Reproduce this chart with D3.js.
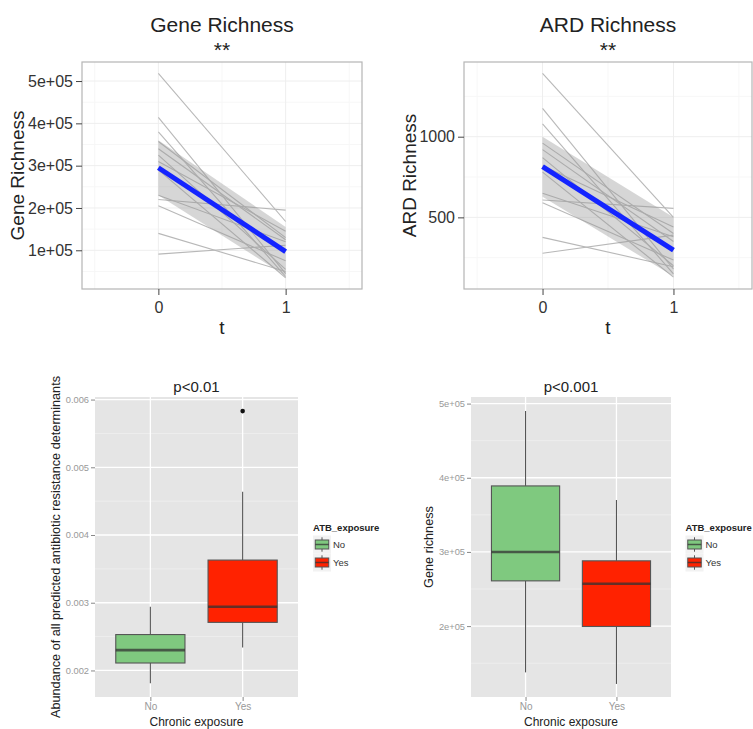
<!DOCTYPE html>
<html><head><meta charset="utf-8">
<script src="https://cdn.jsdelivr.net/npm/d3@7"></script>
<style>
body{margin:0;background:#fff}
svg{display:block}
text{font-family:"Liberation Sans",Arial,Helvetica,sans-serif}
</style>
</head><body>
<svg id="c" width="753" height="729"></svg>
<script>
// ---------- DATA ----------
const timePoints = [0, 1];
const timeTickLabels = ["0", "1"];

// Gene richness per subject (t = 0, t = 1)
const geneT0 = [518000, 414000, 380000, 357000, 340000, 325000, 310000, 290000, 220000, 230000, 205000, 140000, 91000];
const geneT1 = [168000, 45000, 38000, 130000, 125000, 55000, 145000, 35000, 195000, 120000, 75000, 50000, 112000];
const geneFit = [295000, 97000];
const geneBandLow = [230000, 40000];
const geneBandHigh = [360000, 155000];
const geneTicks = [100000, 200000, 300000, 400000, 500000];
const geneTickLabels = ["1e+05", "2e+05", "3e+05", "4e+05", "5e+05"];

// ARD richness per subject (t = 0, t = 1)
const ardT0 = [1393, 1176, 1079, 960, 920, 870, 820, 780, 608, 649, 590, 376, 278];
const ardT1 = [500, 180, 150, 400, 350, 200, 440, 130, 556, 380, 235, 194, 390];
const ardFit = [814, 297];
const ardBandLow = [628, 135];
const ardBandHigh = [1000, 500];
const ardTicks = [500, 1000];
const ardTickLabels = ["500", "1000"];

// Boxplots
const exposureCats = ["No", "Yes"];
const boxFill = ["#7FC97F", "#FF2200"];

const abdLowerWhisker = [0.00181, 0.00234];
const abdQ1 = [0.00211, 0.00271];
const abdMedian = [0.00230, 0.00294];
const abdQ3 = [0.00253, 0.00363];
const abdUpperWhisker = [0.00294, 0.00464];
const abdOutliers = [[], [0.00583]];
const abdTicks = [0.002, 0.003, 0.004, 0.005, 0.006];
const abdTickLabels = ["0.002", "0.003", "0.004", "0.005", "0.006"];

const grLowerWhisker = [137600, 122000];
const grQ1 = [261000, 199500];
const grMedian = [300000, 257000];
const grQ3 = [389000, 288000];
const grUpperWhisker = [490000, 370000];
const grOutliers = [[], []];
const grTicks = [200000, 300000, 400000, 500000];
const grTickLabels = ["2e+05", "3e+05", "4e+05", "5e+05"];

// ---------- DRAW ----------
const svg = d3.select("#c");

function topPanel(o) {
  const g = svg.append("g");
  const x = d3.scaleLinear().domain([-0.6, 1.6]).range([o.left, o.right]);
  const y = d3.scaleLinear().domain(o.ydom).range([o.bottom, o.top]);
  // background
  g.append("rect").attr("x", o.left).attr("y", o.top).attr("width", o.right - o.left).attr("height", o.bottom - o.top).attr("fill", "#fff");
  // minor grid
  const ymin = o.minor;
  g.selectAll(".ymin").data(ymin).join("line")
    .attr("x1", o.left).attr("x2", o.right).attr("y1", d => y(d)).attr("y2", d => y(d))
    .attr("stroke", "#f7f7f7").attr("stroke-width", 1);
  g.selectAll(".xmin").data([-0.5, 0.5, 1.5]).join("line")
    .attr("y1", o.top).attr("y2", o.bottom).attr("x1", d => x(d)).attr("x2", d => x(d))
    .attr("stroke", "#f7f7f7").attr("stroke-width", 1);
  // major grid
  g.selectAll(".ymaj").data(o.ticks).join("line")
    .attr("x1", o.left).attr("x2", o.right).attr("y1", d => y(d)).attr("y2", d => y(d))
    .attr("stroke", "#eeeeee").attr("stroke-width", 1);
  g.selectAll(".xmaj").data(timePoints).join("line")
    .attr("y1", o.top).attr("y2", o.bottom).attr("x1", d => x(d)).attr("x2", d => x(d))
    .attr("stroke", "#eeeeee").attr("stroke-width", 1);
  // subject lines
  const line = d3.line().x(d => x(d[0])).y(d => y(d[1]));
  o.t0.forEach((v, i) => {
    g.append("path").attr("d", line([[timePoints[0], v], [timePoints[1], o.t1[i]]]))
      .attr("fill", "none").attr("stroke", "#b8b8b8").attr("stroke-width", 1.1);
  });
  // confidence band
  const area = d3.area().x((d, i) => x(timePoints[i])).y0(d => y(d[0])).y1(d => y(d[1]));
  g.append("path").attr("d", area(timePoints.map((t, i) => [o.bandLow[i], o.bandHigh[i]])))
    .attr("fill", "#999").attr("fill-opacity", 0.4);
  // fit line
  g.append("path").attr("d", line(timePoints.map((t, i) => [t, o.fit[i]])))
    .attr("fill", "none").attr("stroke", "#1424ff").attr("stroke-width", 5);
  // border
  g.append("rect").attr("x", o.left).attr("y", o.top).attr("width", o.right - o.left).attr("height", o.bottom - o.top)
    .attr("fill", "none").attr("stroke", "#b5b5b5").attr("stroke-width", 1.2);
  // y axis
  const ya = d3.axisLeft(y).tickValues(o.ticks).tickFormat((d, i) => o.tickLabels[i]).tickSize(6).tickPadding(3);
  const yg = g.append("g").attr("transform", `translate(${o.left},0)`).call(ya);
  yg.select(".domain").remove();
  yg.selectAll("line").attr("stroke", "#444");
  yg.selectAll("text").attr("font-size", 16).attr("fill", "#333").attr("font-family", '"Liberation Sans",Arial,sans-serif');
  // x axis
  const xa = d3.axisBottom(x).tickValues(timePoints).tickFormat((d, i) => timeTickLabels[i]).tickSize(6).tickPadding(7);
  const xg = g.append("g").attr("transform", `translate(0,${o.bottom})`).call(xa);
  xg.select(".domain").remove();
  xg.selectAll("line").attr("stroke", "#444");
  xg.selectAll("text").attr("font-size", 16).attr("fill", "#333").attr("font-family", '"Liberation Sans",Arial,sans-serif');
  // titles
  const cx = (o.left + o.right) / 2;
  g.append("text").attr("x", cx).attr("y", 32).attr("text-anchor", "middle").attr("font-size", 21).attr("fill", "#222").text(o.title);
  g.append("text").attr("x", cx).attr("y", 57).attr("text-anchor", "middle").attr("font-size", 21).attr("fill", "#222").text("**");
  g.append("text").attr("x", cx).attr("y", 334).attr("text-anchor", "middle").attr("font-size", 19).attr("fill", "#222").text("t");
  g.append("text").attr("transform", `translate(${o.ylabX},${(o.top + o.bottom) / 2}) rotate(-90)`)
    .attr("text-anchor", "middle").attr("font-size", 19).attr("fill", "#222").text(o.ylabel);
}

topPanel({left: 82, right: 362, top: 62, bottom: 289, ydom: [8500, 545000],
  t0: geneT0, t1: geneT1, fit: geneFit, bandLow: geneBandLow, bandHigh: geneBandHigh,
  ticks: geneTicks, tickLabels: geneTickLabels, minor: [50000, 150000, 250000, 350000, 450000],
  title: "Gene Richness", ylabel: "Gene Richness", ylabX: 24});

topPanel({left: 464, right: 752, top: 62, bottom: 289, ydom: [56, 1463],
  t0: ardT0, t1: ardT1, fit: ardFit, bandLow: ardBandLow, bandHigh: ardBandHigh,
  ticks: ardTicks, tickLabels: ardTickLabels, minor: [250, 750, 1250],
  title: "ARD Richness", ylabel: "ARD Richness", ylabX: 416});

function boxPanel(o) {
  const g = svg.append("g");
  const x = d3.scalePoint().domain(exposureCats).range([o.left, o.right]).padding(0.6);
  const y = d3.scaleLinear().domain(o.ydom).range([o.bottom, o.top]);
  const bw = x.step() * 0.75;
  g.append("rect").attr("x", o.left).attr("y", o.top).attr("width", o.right - o.left).attr("height", o.bottom - o.top).attr("fill", "#e5e5e5");
  g.selectAll(".ymin").data(o.minor).join("line")
    .attr("x1", o.left).attr("x2", o.right).attr("y1", d => y(d)).attr("y2", d => y(d))
    .attr("stroke", "#f0f0f0").attr("stroke-width", 0.8);
  g.selectAll(".ymaj").data(o.ticks).join("line")
    .attr("x1", o.left).attr("x2", o.right).attr("y1", d => y(d)).attr("y2", d => y(d))
    .attr("stroke", "#fff").attr("stroke-width", 1.3);
  g.selectAll(".xmaj").data(exposureCats).join("line")
    .attr("y1", o.top).attr("y2", o.bottom).attr("x1", d => x(d)).attr("x2", d => x(d))
    .attr("stroke", "#fff").attr("stroke-width", 1.3);
  exposureCats.forEach((c, i) => {
    const cx = x(c);
    g.append("line").attr("x1", cx).attr("x2", cx).attr("y1", y(o.lw[i])).attr("y2", y(o.q1[i])).attr("stroke", "#555").attr("stroke-width", 1.1);
    g.append("line").attr("x1", cx).attr("x2", cx).attr("y1", y(o.q3[i])).attr("y2", y(o.uw[i])).attr("stroke", "#555").attr("stroke-width", 1.1);
    g.append("rect").attr("x", cx - bw / 2).attr("width", bw).attr("y", y(o.q3[i])).attr("height", y(o.q1[i]) - y(o.q3[i]))
      .attr("fill", boxFill[i]).attr("stroke", "#555").attr("stroke-width", 1.1);
    g.append("line").attr("x1", cx - bw / 2).attr("x2", cx + bw / 2).attr("y1", y(o.med[i])).attr("y2", y(o.med[i]))
      .attr("stroke", "#333").attr("stroke-opacity", 0.75).attr("stroke-width", 2.6);
    o.out[i].forEach(v => {
      g.append("circle").attr("cx", cx).attr("cy", y(v)).attr("r", 2.3).attr("fill", "#111");
    });
  });
  const ya = d3.axisLeft(y).tickValues(o.ticks).tickFormat((d, i) => o.tickLabels[i]).tickSize(4).tickPadding(2);
  const yg = g.append("g").attr("transform", `translate(${o.left},0)`).call(ya);
  yg.select(".domain").remove();
  yg.selectAll("line").attr("stroke", "#888");
  yg.selectAll("text").attr("font-size", 9.3).attr("fill", "#999").attr("font-family", '"Liberation Sans",Arial,sans-serif');
  const xa = d3.axisBottom(x).tickSize(4).tickPadding(2);
  const xg = g.append("g").attr("transform", `translate(0,${o.bottom})`).call(xa);
  xg.select(".domain").remove();
  xg.selectAll("line").attr("stroke", "#888");
  xg.selectAll("text").attr("font-size", 10).attr("fill", "#999").attr("font-family", '"Liberation Sans",Arial,sans-serif');
  const cx = (o.left + o.right) / 2;
  g.append("text").attr("x", cx).attr("y", 392).attr("text-anchor", "middle").attr("font-size", 15).attr("fill", "#222").text(o.title);
  g.append("text").attr("x", cx).attr("y", 726).attr("text-anchor", "middle").attr("font-size", 12).attr("fill", "#222").text("Chronic exposure");
  g.append("text").attr("transform", `translate(${o.ylabX},${(o.top + o.bottom) / 2}) rotate(-90)`)
    .attr("text-anchor", "middle").attr("font-size", 12.7).attr("fill", "#222").text(o.ylabel);
  // legend
  const lg = g.append("g").attr("transform", `translate(${o.legX},0)`);
  lg.append("text").attr("x", 0).attr("y", 531).attr("font-size", 9.5).attr("font-weight", "bold").attr("fill", "#222").text("ATB_exposure");
  exposureCats.forEach((c, i) => {
    const ky = 535.5 + i * 18, k = 18;
    lg.append("rect").attr("x", 0).attr("y", ky).attr("width", k).attr("height", k).attr("fill", "#f2f2f2");
    lg.append("line").attr("x1", k / 2).attr("x2", k / 2).attr("y1", ky + k * 0.1).attr("y2", ky + k * 0.9).attr("stroke", "#555").attr("stroke-width", 1);
    lg.append("rect").attr("x", k * 0.125).attr("y", ky + k * 0.25).attr("width", k * 0.75).attr("height", k * 0.5)
      .attr("fill", boxFill[i]).attr("stroke", "#555").attr("stroke-width", 1);
    lg.append("line").attr("x1", k * 0.125).attr("x2", k * 0.875).attr("y1", ky + k / 2).attr("y2", ky + k / 2)
      .attr("stroke", "#333").attr("stroke-opacity", 0.75).attr("stroke-width", 1.5);
    lg.append("text").attr("x", k + 2).attr("y", ky + k / 2 + 3.5).attr("font-size", 9.5).attr("fill", "#333").text(c);
  });
}

boxPanel({left: 95, right: 298, top: 397, bottom: 697, ydom: [0.001608, 0.006038],
  lw: abdLowerWhisker, q1: abdQ1, med: abdMedian, q3: abdQ3, uw: abdUpperWhisker, out: abdOutliers,
  ticks: abdTicks, tickLabels: abdTickLabels, minor: [0.0025, 0.0035, 0.0045, 0.0055],
  title: "p<0.01", ylabel: "Abundance of all predicted antibiotic resistance determinants", ylabX: 60, legX: 313});

boxPanel({left: 471, right: 671, top: 397, bottom: 697, ydom: [104400, 508900],
  lw: grLowerWhisker, q1: grQ1, med: grMedian, q3: grQ3, uw: grUpperWhisker, out: grOutliers,
  ticks: grTicks, tickLabels: grTickLabels, minor: [150000, 250000, 350000, 450000],
  title: "p<0.001", ylabel: "Gene richness", ylabX: 433, legX: 685.5});
</script>
</body></html>
